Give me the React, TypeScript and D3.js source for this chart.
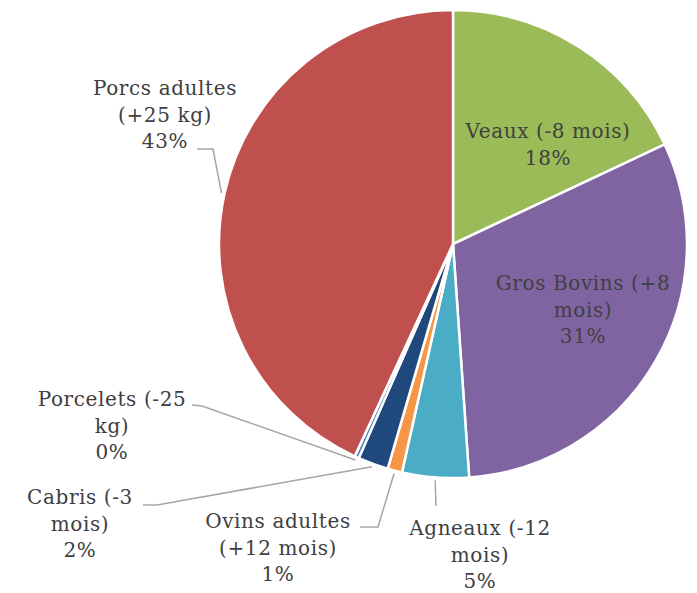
import { useEffect, useRef } from 'react';
import * as d3 from 'd3';

// values (percent of total)
const categories = [
  'Veaux (-8 mois)',
  'Gros Bovins (+8 mois)',
  'Agneaux (-12 mois)',
  'Ovins adultes (+12 mois)',
  'Cabris (-3 mois)',
  'Porcelets (-25 kg)',
  'Porcs adultes (+25 kg)'
];
const values = [18.0, 30.9, 4.6, 1.0, 2.1, 0.3, 43.1];
const shownPct = ['18%', '31%', '5%', '1%', '2%', '0%', '43%'];
const colours = ['#9BBB59', '#8064A2', '#4BACC6', '#F79646', '#1F497D', '#4F81BD', '#C0504D'];

// label lines as written on the chart
const labelLines = [
  ['Veaux (-8 mois)', '18%'],
  ['Gros Bovins (+8', 'mois)', '31%'],
  ['Agneaux (-12', 'mois)', '5%'],
  ['Ovins adultes', '(+12 mois)', '1%'],
  ['Cabris (-3', 'mois)', '2%'],
  ['Porcelets (-25', 'kg)', '0%'],
  ['Porcs adultes', '(+25 kg)', '43%']
];

const W = 697;
const H = 593;
const cx = 453;
const cy = 244;
const R = 234;

// label placement: centre x, first baseline y; elbow/end for leader lines
const labelPos = [
  { x: 548, y: 138, inside: true },
  { x: 583, y: 290, inside: true },
  { x: 480, y: 535, elbow: [436, 506], end: null },
  { x: 278, y: 528, elbow: [378, 527], end: [360, 527] },
  { x: 80, y: 504, elbow: [157, 505], end: [143, 505] },
  { x: 112, y: 406, elbow: [202, 406], end: [192, 405] },
  { x: 165, y: 95, elbow: [213, 149], end: [197, 149] }
];

const App = () => {
  const svgRef = useRef<SVGSVGElement>(null);

  useEffect(() => {
    if (!svgRef.current) return;
    const svg = d3.select(svgRef.current);
    svg.selectAll('*').remove();

    const pie = d3.pie<number>().sort(null).value(d => d);
    const arcs = pie(values);
    const arc = d3.arc<d3.PieArcDatum<number>>().innerRadius(0).outerRadius(R);

    const g = svg.append('g').attr('transform', `translate(${cx},${cy})`);

    g.selectAll('path.slice')
      .data(arcs)
      .enter()
      .append('path')
      .attr('class', 'slice')
      .attr('d', arc)
      .attr('fill', (_, i) => colours[i])
      .attr('stroke', '#fff')
      .attr('stroke-width', 2.5)
      .append('title')
      .text((d, i) => `${categories[i]}: ${shownPct[i]}`);

    // leader lines
    arcs.forEach((a, i) => {
      const p = labelPos[i];
      if (p.inside) return;
      const mid = (a.startAngle + a.endAngle) / 2;
      const sx = cx + Math.sin(mid) * (R + 3);
      const sy = cy - Math.cos(mid) * (R + 3);
      const pts: [number, number][] = [[sx, sy], p.elbow as [number, number]];
      if (p.end) pts.push(p.end as [number, number]);
      svg.append('path')
        .attr('d', d3.line()(pts))
        .attr('fill', 'none')
        .attr('stroke', '#A6A6A6')
        .attr('stroke-width', 1.5);
    });

    // labels
    labelLines.forEach((lines, i) => {
      const p = labelPos[i];
      const t = svg.append('text')
        .attr('text-anchor', 'middle')
        .attr('font-family', '"DejaVu Serif", serif')
        .attr('font-size', 20)
        .attr('letter-spacing', 0.6)
        .attr('fill', '#404040');
      lines.forEach((ln, j) => {
        t.append('tspan')
          .attr('x', p.x)
          .attr('y', p.y + j * 26.5)
          .text(ln);
      });
    });
  }, []);

  return (
    <svg
      ref={svgRef}
      width={W}
      height={H}
      style={{ position: 'absolute', left: 0, top: 0, background: '#fff' }}
    />
  );
};

export default App;
